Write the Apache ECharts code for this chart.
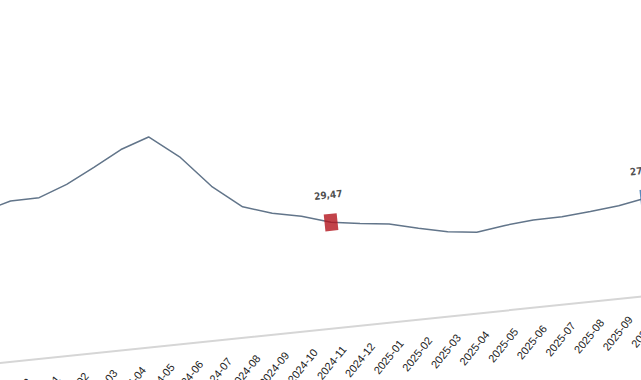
<!DOCTYPE html>
<html>
<head>
<meta charset="utf-8">
<script src="https://cdn.jsdelivr.net/npm/echarts@6/dist/echarts.min.js"></script>
<style>
  html, body { margin: 0; padding: 0; width: 641px; height: 380px; overflow: hidden; background: #ffffff; }
  #chart {
    position: absolute;
    left: -120px; top: -20px;
    width: 800px; height: 460px;
    transform-origin: 120px 20px;
    transform: rotate(-5.91deg);
  }
</style>
</head>
<body>
<div id="chart"></div>
<script>
const months = ['2023-11','2023-12','2024-01','2024-02','2024-03','2024-04','2024-05','2024-06','2024-07','2024-08','2024-09','2024-10','2024-11','2024-12','2025-01','2025-02','2025-03','2025-04','2025-05','2025-06','2025-07','2025-08','2025-09','2025-10'];
const values = [42.4, 44.6, 44.7, 47.6, 51.5, 55.7, 58.4, 52.0, 42.9, 36.3, 33.7, 32.0, 29.47, 28.3, 27.3, 25.3, 23.5, 22.5, 23.6, 24.3, 24.4, 25.0, 25.8, 27.2];
const highlightMonths = ['2024-11', '2025-10'];
const highlightColors = ['#b3141d', '#2f6ead'];

const fmt = v => v.toFixed(2).replace('.', ',');

const markData = months.map((m, i) => {
  const k = highlightMonths.indexOf(m);
  if (k < 0) return null;
  return { value: values[i], itemStyle: { color: highlightColors[k] } };
});

const chart = echarts.init(document.getElementById('chart'), null, { renderer: 'svg' });
chart.setOption({
  animation: false,
  backgroundColor: '#ffffff',
  grid: { left: 81, right: 57, top: 165.8, bottom: 79.2 },
  xAxis: {
    type: 'category',
    data: months,
    boundaryGap: false,
    axisLine: { show: true, lineStyle: { color: '#d6d6d6', width: 2 } },
    axisTick: { show: false },
    axisLabel: {
      interval: 0,
      rotate: 45,
      margin: 20,
      fontSize: 11,
      color: '#222222',
      fontFamily: 'Liberation Sans, Arial, sans-serif'
    },
    splitLine: { show: false }
  },
  yAxis: {
    type: 'value',
    min: 0,
    max: 60,
    show: false,
    splitLine: { show: false }
  },
  series: [
    {
      type: 'line',
      data: values,
      symbol: 'none',
      smooth: false,
      lineStyle: { color: '#62758a', width: 1.5 },
      z: 2
    },
    {
      type: 'scatter',
      data: markData,
      symbol: 'rect',
      symbolSize: [13, 17],
      label: {
        show: true,
        position: 'top',
        distance: 14,
        formatter: p => fmt(p.value),
        fontSize: 10,
        fontWeight: 'bold',
        color: '#1e1e1e',
        fontFamily: 'Liberation Sans Narrow, DejaVu Sans Condensed, sans-serif'
      },
      z: 3
    }
  ]
});
</script>
</body>
</html>
